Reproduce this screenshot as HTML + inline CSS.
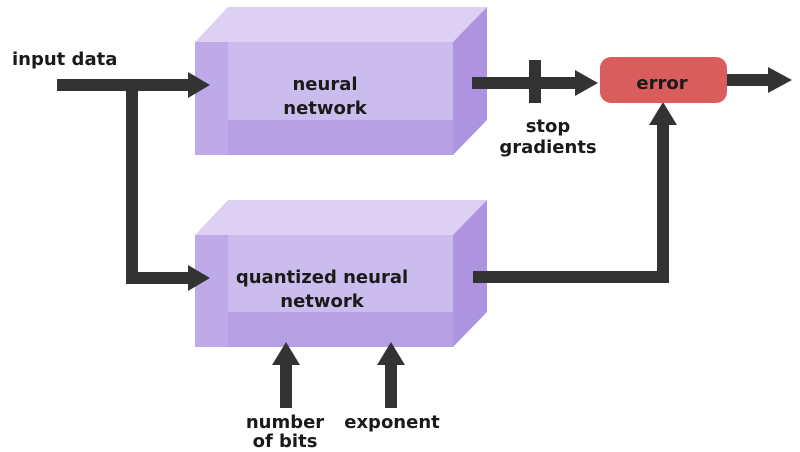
<!DOCTYPE html>
<html><head><meta charset="utf-8"><style>
html,body{margin:0;padding:0;background:#fff;}
svg{display:block;}
</style></head><body>
<svg width="800" height="452" viewBox="0 0 800 452" xmlns="http://www.w3.org/2000/svg" font-family="DejaVu Sans, Liberation Sans, sans-serif" font-weight="bold" font-size="18" fill="#1a1a1a">
<!-- top box -->
<g>
<polygon points="195,42 228,7 487,7 453,42" fill="#dcd0f3"/>
<polygon points="453,42 487,7 487,120 453,155" fill="#ad93e0"/>
<rect x="195" y="42" width="258" height="113" fill="#c4b2ea"/>
<rect x="228" y="42" width="225" height="78" fill="#cbbcee"/>
<polygon points="195,155 228,120 453,120 453,155" fill="#b6a0e4"/>
<rect x="195" y="42" width="33" height="113" fill="#bea9e9"/>
<text x="325" y="90" text-anchor="middle" fill="#1a1a1a">neural</text>
<text x="325" y="114" text-anchor="middle" fill="#1a1a1a">network</text>
</g>
<!-- bottom box -->
<g>
<polygon points="195,235 228,200 487,200 453,235" fill="#dcd0f3"/>
<polygon points="453,235 487,200 487,312 453,347" fill="#ad93e0"/>
<rect x="195" y="235" width="258" height="112" fill="#c4b2ea"/>
<rect x="228" y="235" width="225" height="77" fill="#cbbcee"/>
<polygon points="195,347 228,312 453,312 453,347" fill="#b6a0e4"/>
<rect x="195" y="235" width="33" height="112" fill="#bea9e9"/>
<text x="322" y="283" text-anchor="middle" fill="#1a1a1a">quantized neural</text>
<text x="322" y="307" text-anchor="middle" fill="#1a1a1a">network</text>
</g>
<g fill="#333">
<rect x="57" y="79" width="135" height="12"/>
<polygon points="188,72 210,85 188,98"/>
<rect x="126" y="79" width="12" height="205"/>
<rect x="126" y="272" width="66" height="12"/>
<polygon points="188,265 210,278 188,291"/>
<rect x="472" y="77" width="106" height="12"/>
<polygon points="575,70 598,83 575,96"/>
<rect x="529" y="60" width="12" height="43"/>
<rect x="726" y="74" width="46" height="12"/>
<polygon points="768,67 792,80 768,93"/>
<rect x="473" y="271" width="196" height="12"/>
<rect x="657" y="122" width="12" height="161"/>
<polygon points="649,125 663,102 677,125"/>
<rect x="280" y="362" width="12" height="46"/>
<polygon points="272,365 286,342 300,365"/>
<rect x="385" y="362" width="12" height="46"/>
<polygon points="377,365 391,342 405,365"/>
</g>
<rect x="600" y="57" width="127" height="46" rx="11" fill="#d95d5d"/>
<text x="662" y="89" text-anchor="middle" fill="#1a1a1a">error</text>
<text x="12" y="65" fill="#1a1a1a">input data</text>
<text x="548" y="132" text-anchor="middle" fill="#1a1a1a">stop</text>
<text x="548" y="153" text-anchor="middle" fill="#1a1a1a">gradients</text>
<text x="285" y="428" text-anchor="middle" fill="#1a1a1a">number</text>
<text x="285" y="447" text-anchor="middle" fill="#1a1a1a">of bits</text>
<text x="392" y="428" text-anchor="middle" fill="#1a1a1a">exponent</text>
</svg>
</body></html>
